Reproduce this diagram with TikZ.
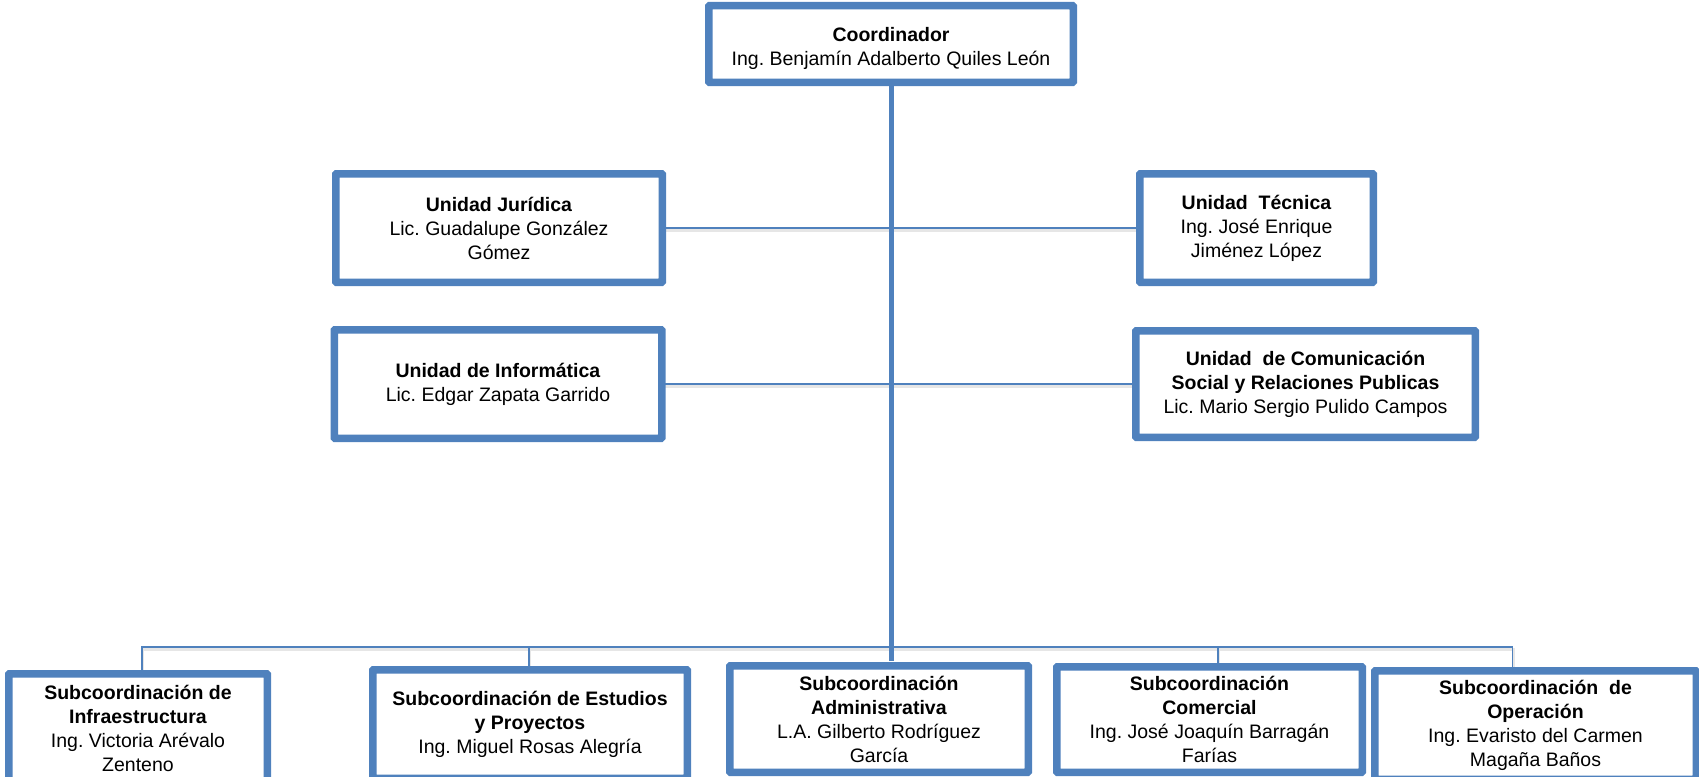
\documentclass[tikz,border=0pt]{standalone}
\usepackage{fontspec}
\setmainfont{Liberation Sans}
\usepackage{xcolor}
\usepackage{tikz}
\usetikzlibrary{calc}
\frenchspacing
\definecolor{boxblue}{HTML}{4F81BD}
\definecolor{shade}{HTML}{E6E6E6}
\tikzset{
  box/.style={draw=boxblue, line width=5pt, fill=white, rounded corners=1.5pt,
    inner sep=0pt, align=center, text=black, font=\fontsize{19.5}{24}\selectfont},
  conn/.style={draw=boxblue, line width=1.5pt,
    preaction={draw=shade, line width=2.5pt, transform canvas={shift={(1pt,-2.5pt)}}}},
  trunk/.style={draw=boxblue, line width=5pt},
}

\begin{document}
\begin{tikzpicture}[x=1pt, y=-1pt]
  \useasboundingbox (0,0) rectangle (1699,776);
  \clip (0,0) rectangle (1699,776);
  % coordinator and staff units
  \node[box, minimum width=362, minimum height=74, text height=48pt] (coord) at (891,44)
    {\textbf{Coordinador}\\Ing. Benjamín Adalberto Quiles León};
  \node[box, minimum width=324, minimum height=106] (jur) at (499,228)
    {\textbf{Unidad Jurídica}\\Lic. Guadalupe González\\Gómez};
  \node[box, minimum width=231, minimum height=106] (tec) at (1256.5,228)
    {\textbf{Unidad\ \ Técnica}\\Ing. José Enrique\\Jiménez López};
  \node[box, minimum width=325, minimum height=106] (inf) at (498,384)
    {\textbf{Unidad de Informática}\\Lic. Edgar Zapata Garrido};
  \node[box, minimum width=337, minimum height=104] (com) at (1305.5,384)
    {\textbf{Unidad\ \ de Comunicación}\\\textbf{Social y Relaciones Publicas}\\Lic. Mario Sergio Pulido Campos};
  % subcoordinations
  \node[box, minimum width=256, minimum height=106] (infra) at (138,728)
    {\textbf{Subcoordinación de}\\\textbf{Infraestructura}\\Ing. Victoria Arévalo\\Zenteno};
  \node[box, minimum width=312, minimum height=106] (est) at (530,724)
    {\textbf{Subcoordinación de Estudios}\\\textbf{y Proyectos}\\Ing. Miguel Rosas Alegría};
  \node[box, minimum width=296, minimum height=104] (adm) at (879,719)
    {\textbf{Subcoordinación}\\\textbf{Administrativa}\\L.A. Gilberto Rodríguez\\García};
  \node[box, minimum width=303, minimum height=103] (cml) at (1209.5,719.5)
    {\textbf{Subcoordinación}\\\textbf{Comercial}\\Ing. José Joaquín Barragán\\Farías};
  \node[box, minimum width=319, minimum height=106] (opr) at (1535.5,725)
    {\textbf{Subcoordinación\ \ de}\\\textbf{Operación}\\Ing. Evaristo del Carmen\\Magaña Baños};

  % connectors
  \coordinate (bus) at (891,647);
  \coordinate (trunkend) at (891,661);
  \coordinate (dInfra) at ($(infra.north)+(4,0)$);
  \coordinate (dEst) at ($(est.north)+(-1,0)$);
  \coordinate (dCml) at ($(cml.north)+(8.5,0)$);
  \coordinate (dOpr) at ($(opr.north)+(-23,0)$);
  \draw[conn] (jur.east) -- (tec.west);
  \draw[conn] (inf.east) -- (com.west);
  \draw[conn] (dInfra) |- (bus) -| (dOpr);
  \draw[conn] (dEst) -- (dEst |- bus);
  \draw[conn] (dCml) -- (dCml |- bus);
  \draw[trunk] (coord.south) -- (trunkend);
  % redraw box borders over the connector ends
  \foreach \n in {coord,jur,tec,inf,com,infra,est,adm,cml,opr}
    \draw[boxblue, line width=5pt, rounded corners=1.5pt]
      (\n.north west) rectangle (\n.south east);
\end{tikzpicture}
\end{document}
